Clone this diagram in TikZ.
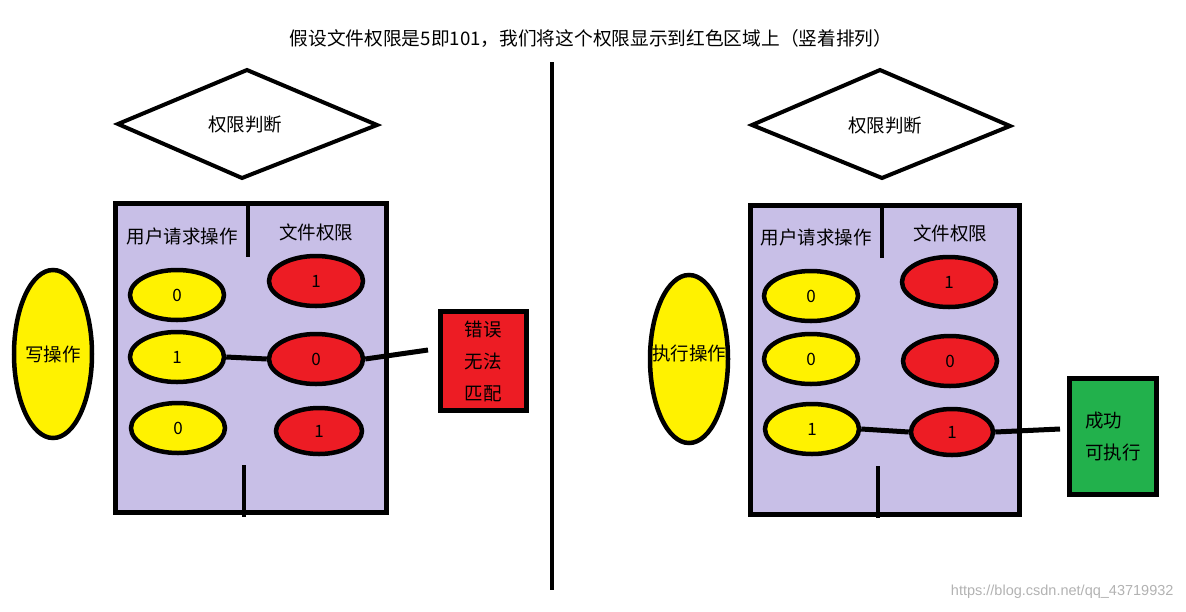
\documentclass[tikz,border=0pt]{standalone}
\usepackage{fontspec}
\setmainfont{Noto Sans CJK SC}
\newfontfamily\wmfont{Liberation Sans}
\usetikzlibrary{shapes.geometric}
\definecolor{lav}{HTML}{C8BFE7}
\definecolor{pyel}{HTML}{FFF200}
\definecolor{pred}{HTML}{ED1C24}
\definecolor{pgreen}{HTML}{22B14C}
\begin{document}
\begin{tikzpicture}[x=1pt,y=-1pt,
  base/.style={font=\fontsize{18.5}{22}\selectfont},
  bit/.style={ellipse, draw, line width=4.5pt, inner sep=0pt, minimum width=94pt, minimum height=50pt, font=\fontsize{17}{17}\selectfont},
  ybit/.style={bit, fill=pyel},
  rbit/.style={bit, fill=pred},
  opell/.style={ellipse, draw, line width=4.5pt, fill=pyel, inner sep=0pt, minimum width=78pt, minimum height=168pt},
  panel/.style={draw, line width=5pt, fill=lav, inner sep=0pt},
  judge/.style={draw, line width=4pt, fill=white},
  result/.style={draw, line width=5pt, inner sep=0pt, base},
  wire/.style={line width=5pt},
  divider/.style={line width=4.5pt},
]
\useasboundingbox (0,0) rectangle (1186,611);

% title
\node[font=\fontsize{18.7}{22}\selectfont] (title) at (591,38) {假设文件权限是5即101，我们将这个权限显示到红色区域上（竖着排列）};

% middle line
\draw[line width=4pt] (552,62) -- (552,590);

% ================= LEFT =================
\draw[judge] (118,124) -- (247,70) -- (377,125) -- (242,178) -- cycle;
\node[base] (ljudge) at (245,125) {权限判断};

\node[panel, minimum width=271pt, minimum height=309pt] (lbox) at (251,358) {};
\draw[divider] (248,201) -- (248,257);
\draw[divider] (244,465) -- (244,517);
\node[base] (lu) at (182,236) {用户请求操作};
\node[base] (lf) at (316,232) {文件权限};

\node[ybit] (ly1) at (177,295) {0};
\node[ybit] (ly2) at (177,357) {1};
\node[ybit] (ly3) at (178,428) {0};
\node[rbit] (lr1) at (316,281) {1};
\node[rbit] (lr2) at (316,359) {0};
\node[rbit, minimum width=86pt, minimum height=46pt] (lr3) at (319,431) {1};

\node[opell] (lop) at (53,354) {};
\node[base] (loptext) at (lop.center) {写操作};

\node[result, fill=pred, minimum width=86pt, minimum height=99pt, align=center, font=\fontsize{18.5}{32}\selectfont] (lres) at (483,361) {错误\\无法\\匹配};
\coordinate (lend) at (428,350);
\draw[wire] (ly2.east) -- (lr2.west);
\draw[wire] (lr2.east) -- (lend);

% ================= RIGHT =================
\draw[judge] (752,125) -- (880,70) -- (1010,126) -- (882,178) -- cycle;
\node[base] (rjudge) at (885,126) {权限判断};

\node[panel, minimum width=269pt, minimum height=309pt] (rbox) at (885,360) {};
\draw[divider] (882,203) -- (882,258);
\draw[divider] (878,466) -- (878,518);
\node[base] (ru) at (816,237) {用户请求操作};
\node[base] (rf) at (950,233) {文件权限};

\node[ybit] (ry1) at (811,296) {0};
\node[ybit] (ry2) at (811,359) {0};
\node[ybit] (ry3) at (812,429) {1};
\node[rbit] (rr1) at (949,282) {1};
\node[rbit] (rr2) at (950,361) {0};
\node[rbit, minimum width=82pt, minimum height=46pt] (rr3) at (952,432) {1};

\node[opell] (rop) at (689,359) {};
\node[base] (roptext) at (689,353) {执行操作};

\node[result, fill=pgreen, minimum width=87pt, minimum height=116pt, align=left, font=\fontsize{18.5}{32}\selectfont] (rres) at (1113,436) {成功\\可执行};
\coordinate (rend) at (1060,429);
\draw[wire] (ry3.east) -- (rr3.west);
\draw[wire] (rr3.east) -- (rend);

% watermark
\node[anchor=east, text=black!30, font=\wmfont\fontsize{14.5}{14.5}\selectfont] (wm) at (1177,592) {https://blog.csdn.net/qq\_43719932};
\end{tikzpicture}
\end{document}
